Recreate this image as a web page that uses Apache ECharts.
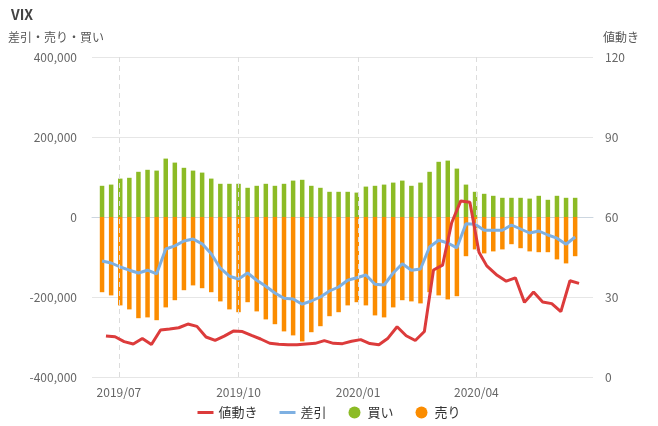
<!DOCTYPE html>
<html><head><meta charset="utf-8">
<script src="https://cdn.jsdelivr.net/npm/echarts@6/dist/echarts.min.js"></script>
<style>html,body{margin:0;padding:0;background:#fff}#c{width:658px;height:426px}</style>
</head><body><div id="c"></div>
<script>
// Weekly position dates (Tuesdays)
const weekDates = ['2019-06-18','2019-06-25','2019-07-02','2019-07-09','2019-07-16','2019-07-23','2019-07-30',
'2019-08-06','2019-08-13','2019-08-20','2019-08-27','2019-09-03','2019-09-10','2019-09-17','2019-09-24',
'2019-10-01','2019-10-08','2019-10-15','2019-10-22','2019-10-29','2019-11-05','2019-11-12','2019-11-19','2019-11-26',
'2019-12-03','2019-12-10','2019-12-17','2019-12-24','2019-12-31','2020-01-07','2020-01-14','2020-01-21','2020-01-28',
'2020-02-04','2020-02-11','2020-02-18','2020-02-25','2020-03-03','2020-03-10','2020-03-17','2020-03-24','2020-03-31',
'2020-04-07','2020-04-14','2020-04-21','2020-04-28','2020-05-05','2020-05-12','2020-05-19','2020-05-26',
'2020-06-02','2020-06-09','2020-06-16'];
// Price dates (Fridays)
const priceDates = ['2019-06-21','2019-06-28','2019-07-05','2019-07-12','2019-07-19','2019-07-26','2019-08-02',
'2019-08-09','2019-08-16','2019-08-23','2019-08-30','2019-09-06','2019-09-13','2019-09-20','2019-09-27',
'2019-10-04','2019-10-11','2019-10-18','2019-10-25','2019-11-01','2019-11-08','2019-11-15','2019-11-22','2019-11-29',
'2019-12-06','2019-12-13','2019-12-20','2019-12-27','2020-01-03','2020-01-10','2020-01-17','2020-01-24','2020-01-31',
'2020-02-07','2020-02-14','2020-02-21','2020-02-28','2020-03-06','2020-03-13','2020-03-20','2020-03-27','2020-04-03',
'2020-04-09','2020-04-17','2020-04-24','2020-05-01','2020-05-08','2020-05-15','2020-05-22','2020-05-29',
'2020-06-05','2020-06-12','2020-06-19'];
const buy = [78000,81000,96000,98000,113000,118000,116000,146000,136000,123000,116000,111000,96000,
83000,83000,83000,73000,78000,83000,78000,83000,91000,93000,78000,73000,63000,
63000,63000,61000,76000,78000,81000,86000,91000,78000,86000,113000,138000,141000,
121000,81000,63000,58000,53000,48000,48000,48000,46000,53000,43000,53000,48000,48000];
const sell = [-188000,-196000,-221000,-231000,-253000,-251000,-258000,-226000,-208000,-183000,-171000,-178000,-188000,
-211000,-231000,-238000,-213000,-236000,-256000,-268000,-286000,-296000,-311000,-288000,-273000,-248000,
-238000,-221000,-213000,-221000,-246000,-251000,-226000,-208000,-211000,-216000,-188000,-196000,-206000,
-198000,-98000,-81000,-91000,-86000,-81000,-68000,-78000,-86000,-88000,-88000,-106000,-116000,-98000];
const net = [-110000,-115000,-125000,-133000,-140000,-133000,-142000,-80000,-72000,-60000,-55000,-67000,-92000,
-128000,-148000,-155000,-140000,-158000,-173000,-190000,-203000,-205000,-218000,-210000,-200000,-185000,
-175000,-158000,-152000,-145000,-168000,-170000,-140000,-117000,-133000,-130000,-75000,-58000,-65000,
-77000,-17000,-18000,-33000,-33000,-33000,-20000,-30000,-40000,-35000,-45000,-53000,-68000,-50000];
const price = [15.40,15.08,13.28,12.39,14.45,12.16,17.61,17.97,18.47,19.87,18.98,15.00,13.74,
15.32,17.22,17.04,15.58,14.25,12.65,12.30,12.07,12.05,12.34,12.62,13.62,12.63,
12.51,13.43,14.02,12.56,12.10,14.56,18.84,15.47,13.68,17.08,40.11,41.94,57.83,
66.04,65.54,46.80,41.67,38.15,35.93,37.19,27.98,31.89,28.16,27.51,24.52,36.09,35.12];
const quarterTicks = ['2019-07-01','2019-10-01','2020-01-01','2020-04-01'];
const leftTicks = [-400000,-200000,0,200000,400000];
const rightTicks = [0,30,60,90,120];

const FONT = '"Noto Sans CJK JP", "Noto Sans", sans-serif';
const LINE_ICON = 'path://M0,0L16,0L16,3L0,3Z';
const pair = (xs, ys) => xs.map((d, i) => [d, ys[i]]);
const quarterSet = new Set(quarterTicks.map(s => +echarts.time.parse(s)));
const chart = echarts.init(document.getElementById('c'), null, {renderer: 'canvas'});
chart.setOption({
  animation: false,
  textStyle: {fontFamily: FONT},
  title: {text: 'VIX', left: 6, top: 3, textStyle: {fontSize: 14, fontWeight: 'bold', color: '#444', fontFamily: FONT}},
  legend: {
    top: 401, left: 'center', itemWidth: 16, itemHeight: 12, itemGap: 22, symbolKeepAspect: true,
    textStyle: {fontSize: 13, color: '#333', fontFamily: FONT},
    data: [{name: '値動き', icon: LINE_ICON}, {name: '差引', icon: LINE_ICON},
           {name: '買い', icon: 'circle'}, {name: '売り', icon: 'circle'}]
  },
  grid: {left: 92, right: 65, top: 57, bottom: 49, containLabel: false},
  xAxis: {
    type: 'time',
    min: '2019-06-12', max: '2020-06-28',
    splitNumber: 12,
    axisLine: {show: true, lineStyle: {color: '#ccd6e0', width: 1}},
    axisTick: {show: false},
    splitLine: {show: false},
    axisLabel: {
      formatter: v => quarterSet.has(+v) ? echarts.time.format(v, '{yyyy}/{MM}', false) : '',
      hideOverlap: false, showMinLabel: false, showMaxLabel: false,
      color: '#666', fontSize: 12, margin: 9, fontFamily: FONT
    }
  },
  yAxis: [{
    type: 'value', min: leftTicks[0], max: leftTicks[leftTicks.length - 1], interval: 200000,
    name: '差引・売り・買い', nameLocation: 'end', nameGap: 14,
    nameTextStyle: {align: 'left', padding: [0, 0, 0, -84], fontSize: 12, color: '#555', fontFamily: FONT},
    axisLine: {show: false}, axisTick: {show: false},
    axisLabel: {color: '#666', fontSize: 12, margin: 15, fontFamily: FONT},
    splitLine: {lineStyle: {color: '#e6e6e6'}}
  }, {
    type: 'value', min: rightTicks[0], max: rightTicks[rightTicks.length - 1], interval: 30, position: 'right',
    name: '値動き', nameLocation: 'end', nameGap: 14,
    nameTextStyle: {align: 'left', padding: [0, 0, 0, 10], fontSize: 12, color: '#555', fontFamily: FONT},
    axisLine: {show: false}, axisTick: {show: false},
    axisLabel: {color: '#666', fontSize: 12, margin: 12, fontFamily: FONT},
    splitLine: {show: false}
  }],
  series: [{
    name: '値動き', type: 'line', yAxisIndex: 1, data: pair(priceDates, price),
    symbol: 'none', lineStyle: {color: '#dc3b3b', width: 3}, itemStyle: {color: '#dc3b3b'}, z: 5
  }, {
    name: '差引', type: 'line', yAxisIndex: 0, data: pair(weekDates, net),
    symbol: 'none', lineStyle: {color: '#7eb0e2', width: 3}, itemStyle: {color: '#7eb0e2'}, z: 4
  }, {
    name: '買い', type: 'bar', stack: 'pos', yAxisIndex: 0, data: pair(weekDates, buy),
    barWidth: 4.5, itemStyle: {color: '#8cbb25'}, z: 2
  }, {
    name: '売り', type: 'bar', stack: 'pos', yAxisIndex: 0, data: pair(weekDates, sell),
    barWidth: 4.5, itemStyle: {color: '#fb8c00'}, z: 2
  }, {
    name: 'quarterLines', type: 'line', yAxisIndex: 0, data: [], z: 1, silent: true,
    markLine: {
      silent: true, symbol: 'none', label: {show: false},
      lineStyle: {type: [5, 4], color: '#dcdcdc', width: 1},
      data: quarterTicks.map(d => ({xAxis: d}))
    }
  }]
});
</script></body></html>
